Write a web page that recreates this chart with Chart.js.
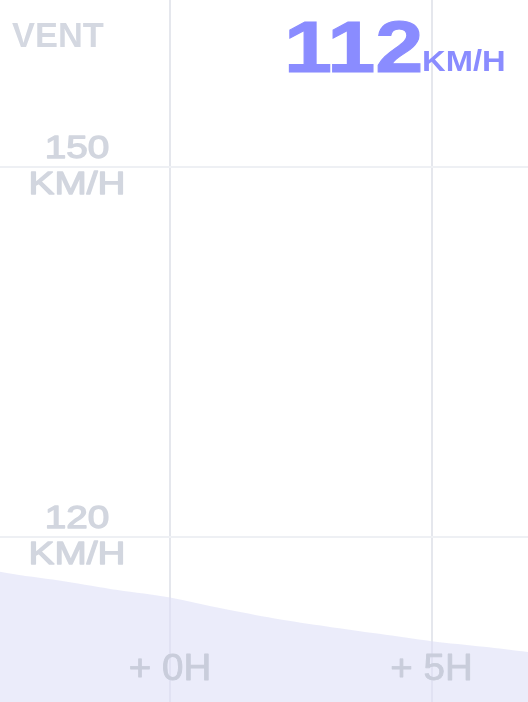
<!DOCTYPE html>
<html>
<head>
<meta charset="utf-8">
<script src="https://cdn.jsdelivr.net/npm/chart.js@4.4.1/dist/chart.umd.min.js"></script>
<style>
  html, body { margin: 0; padding: 0; background: #ffffff; }
  #wrap { position: relative; width: 528px; height: 702px; overflow: hidden; }
  #wrap canvas { position: absolute; left: 0; top: 0; }
  .hdr { position: absolute; font-family: "Liberation Sans", Arial, sans-serif; font-weight: bold; line-height: 1; white-space: nowrap; transform-origin: 0 0; }
  #title { left: 12px; top: 18px; font-size: 34.4px; color: #d4d8e1; }
  #value { left: 283.5px; top: 10.5px; font-size: 72.6px; color: #8a8cff; transform: scaleX(1.19); -webkit-text-stroke: 1px #8a8cff; }
  #unit { left: 422px; top: 46px; font-size: 30.3px; color: #8a8cff; transform: scaleX(1.08); }
</style>
</head>
<body>
<div id="wrap">
  <canvas id="c"></canvas>
  <div class="hdr" id="title">VENT</div>
  <div class="hdr" id="value">112</div>
  <div class="hdr" id="unit">KM/H</div>
</div>
<script>
// ---- data ----
const hours  = [-4, -3, -2, -1, 0, 1, 2, 3, 4, 5, 6, 7];
const speeds = [117.8, 117.0, 116.4, 115.7, 115.1, 114.2, 113.4, 112.75, 112.15, 111.55, 111.1, 110.6];
const xTicks = [0, 5];
const xTickLabels = ['+ 0H', '+ 5H'];
const yTicks = [120, 150];
const yTickLabels = [['120', 'KM/H'], ['150', 'KM/H']];

// widen tick label glyphs horizontally around their anchor (matches the reference's wide lettering)
function stretchLabels(scale, factor) {
  if (scale._stretched) return;
  scale._stretched = true;
  const orig = scale.drawLabels.bind(scale);
  const P = CanvasRenderingContext2D.prototype;
  const wrap = (native) => function (t, x, y, mw) {
    this.save();
    this.lineJoin = 'round';
    this.translate(x, y);
    this.scale(factor, 1);
    if (mw === undefined) native.call(this, t, 0, 0);
    else native.call(this, t, 0, 0, mw / factor);
    this.restore();
  };
  scale.drawLabels = function (area) {
    const c = this.ctx;
    c.fillText = wrap(P.fillText);
    c.strokeText = wrap(P.strokeText);
    try { orig(area); } finally { delete c.fillText; delete c.strokeText; }
  };
}

new Chart(document.getElementById('c'), {
  type: 'line',
  data: {
    datasets: [{
      data: hours.map((h, i) => ({ x: h, y: speeds[i] })),
      fill: 'start',
      backgroundColor: 'rgba(222, 224, 246, 0.6)',
      borderWidth: 0,
      borderColor: 'rgba(0,0,0,0)',
      pointRadius: 0,
      tension: 0.3
    }]
  },
  options: {
    responsive: true,
    maintainAspectRatio: false,
    animation: false,
    layout: { padding: 0 },
    plugins: { legend: { display: false }, tooltip: { enabled: false } },
    scales: {
      x: {
        type: 'linear',
        position: 'bottom',
        min: -3.25,
        max: 6.845,
        afterBuildTicks: s => { s.ticks = xTicks.map(v => ({ value: v })); },
        afterFit: s => {
          s.height = 0; s.paddingLeft = 0; s.paddingRight = 0; s.paddingTop = 0; s.paddingBottom = 0;
          stretchLabels(s, 1.07);
        },
        border: { display: false },
        grid: { color: '#e5e7ed', lineWidth: 2, drawTicks: false },
        ticks: {
          mirror: true,
          padding: 14,
          z: 1,
          color: '#c9cddb',
          textStrokeColor: '#c9cddb',
          textStrokeWidth: 0.8,
          font: { family: '"Liberation Sans", Arial, sans-serif', size: 36, weight: 'normal', lineHeight: 1 },
          maxRotation: 0,
          autoSkip: false,
          callback: v => xTickLabels[xTicks.indexOf(v)]
        }
      },
      y: {
        type: 'linear',
        position: 'left',
        min: 106.63,
        max: 163.51,
        afterBuildTicks: s => { s.ticks = yTicks.map(v => ({ value: v })); },
        afterFit: s => {
          s.width = 0; s.paddingLeft = 0; s.paddingRight = 0; s.paddingTop = 0; s.paddingBottom = 0;
          stretchLabels(s, 1.21);
        },
        border: { display: false },
        grid: { color: '#eef0f4', lineWidth: 2, drawTicks: false },
        ticks: {
          mirror: true,
          crossAlign: 'center',
          padding: 37,
          z: 1,
          color: '#d2d6df',
          textStrokeColor: '#d2d6df',
          textStrokeWidth: 1.3,
          font: { family: '"Liberation Sans", Arial, sans-serif', size: 32, weight: 'normal', lineHeight: 1.125 },
          autoSkip: false,
          callback: v => yTickLabels[yTicks.indexOf(v)]
        }
      }
    }
  }
});
</script>
</body>
</html>
